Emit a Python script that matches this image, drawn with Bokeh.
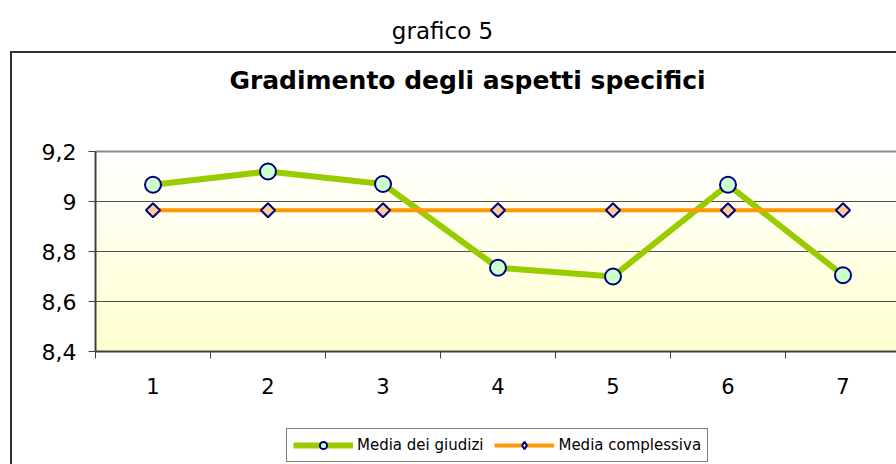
from bokeh.plotting import figure
from bokeh.models import (Range1d, FixedTicker, Legend, LegendItem)
from bokeh.core.properties import value
from bokeh.embed import file_html
from bokeh.resources import INLINE
import numpy as np

# ---- data ----
categories = [1, 2, 3, 4, 5, 6, 7]
category_labels = ["1", "2", "3", "4", "5", "6", "7"]
media_giudizi = [9.067, 9.12, 9.07, 8.735, 8.70, 9.067, 8.705]
media_complessiva = [8.965, 8.965, 8.965, 8.965, 8.965, 8.965, 8.965]
y_ticks = [8.4, 8.6, 8.8, 9.0, 9.2]
y_tick_labels = ["8,4", "8,6", "8,8", "9", "9,2"]
outer_title = "grafico 5"
chart_title = "Gradimento degli aspetti specifici"
series_names = ["Media dei giudizi", "Media complessiva"]

FONT = "DejaVu Sans"
W, H = 896, 464
LEFT, BOTTOM = 95, 351          # plot-area left edge / x-axis position (px)
PX_PER_Y = 250.0                # 0.2 units = 50 px
PX_PER_X = 115.0                # one category = 115 px
Y0, Y1 = 8.4, 9.2
X0 = 0.5
X1 = X0 + (W - LEFT) / PX_PER_X

GREEN, ORANGE, NAVY = "#99cc00", "#ff9900", "#000080"
CIRCLE_FILL, DIAMOND_FILL = "#ccffcc", "#ffcc99"
BOX = "#303030"

# chart-area box (left + top edges) as the figure's page background
box_css = (f"linear-gradient({BOX}, {BOX}) 10px 51px / 2px 600px no-repeat, "
           f"linear-gradient({BOX}, {BOX}) 10px 51px / 1200px 2px no-repeat, #ffffff")

p = figure(width=W, height=H, output_backend="svg", toolbar_location=None,
           x_range=Range1d(X0 - LEFT / PX_PER_X, X1),
           y_range=Range1d(Y0 - (H - BOTTOM) / PX_PER_Y, Y0 + BOTTOM / PX_PER_Y),
           min_border=0, styles={"background": box_css})
p.outline_line_color = None
p.background_fill_alpha = 0
p.border_fill_alpha = 0
p.grid.visible = False
p.extra_x_ranges = {"px": Range1d(0, W)}
p.extra_y_ranges = {"py": Range1d(H, 0)}

# gradient plot background (white -> pale yellow)
n = 80
edges = np.linspace(Y0, Y1, n + 1)
cols = []
for i in range(n):
    t = 1 - (i + 0.5) / n  # 1 at bottom, 0 at top
    cols.append("#%02x%02x%02x" % (255, 255, int(round(255 - 51 * t))))
p.quad(left=X0, right=X1, bottom=edges[:-1], top=edges[1:], fill_color=cols,
       line_color=None, level="image")

# horizontal grid lines of the plot area and its top border
inner = [t for t in y_ticks if Y0 < t < Y1]
p.segment(x0=[X0] * len(inner), x1=[X1] * len(inner), y0=inner, y1=inner,
          line_color="#505050", line_width=1)
p.segment(x0=[X0], x1=[X1], y0=[Y1], y1=[Y1], line_color="#8c8c8c", line_width=2)

# titles
p.text(x=[442], y=[30], text=[outer_title], x_range_name="px", y_range_name="py",
       text_align="center", text_baseline="middle", text_font=value(FONT),
       text_font_size="23px", text_color="black")
p.text(x=[467], y=[80], text=[chart_title], x_range_name="px", y_range_name="py",
       text_align="center", text_baseline="middle", text_font=value(FONT),
       text_font_size="25px", text_font_style="bold", text_color="black")

# axes (fixed at the plot-area edges)
xa = p.xaxis[0]
xa.fixed_location = Y0
xa.bounds = (X0, X1)
xa.ticker = FixedTicker(ticks=categories,
                        minor_ticks=[c - 0.5 for c in categories] + [categories[-1] + 0.5])
xa.major_label_overrides = {c: l for c, l in zip(categories, category_labels)}
xa.major_tick_out = 0
xa.major_tick_in = 0
xa.minor_tick_out = 7
xa.minor_tick_in = 0
xa.minor_tick_line_color = "#404040"
xa.axis_line_color = "#404040"
xa.axis_line_width = 2
xa.major_label_text_font = FONT
xa.major_label_text_font_size = "21px"
xa.major_label_text_color = "black"
xa.major_label_standoff = 19

ya = p.yaxis[0]
ya.fixed_location = X0
ya.bounds = (Y0, Y1)
ya.ticker = FixedTicker(ticks=y_ticks)
ya.major_label_overrides = {t: l for t, l in zip(y_ticks, y_tick_labels)}
ya.major_tick_out = 7
ya.major_tick_in = 0
ya.minor_tick_line_color = None
ya.major_tick_line_color = "#404040"
ya.axis_line_color = "#404040"
ya.axis_line_width = 2
ya.major_label_text_font = FONT
ya.major_label_text_font_size = "22px"
ya.major_label_text_color = "black"
ya.major_label_standoff = 12

# series
l1 = p.line(categories, media_giudizi, line_color=GREEN, line_width=6)
s1 = p.scatter(categories, media_giudizi, marker="circle", size=16,
               fill_color=CIRCLE_FILL, line_color=NAVY, line_width=2)
l2 = p.line(categories, media_complessiva, line_color=ORANGE, line_width=4)
s2 = p.scatter(categories, media_complessiva, marker="square", angle=np.pi / 4,
               size=10, fill_color=DIAMOND_FILL, line_color=NAVY, line_width=2)
# legend-only diamond key (the legend does not rotate markers); draws nothing
s2_key = p.scatter([np.nan], [np.nan], marker="diamond", size=10,
                   fill_color="white", line_color=NAVY, line_width=2)

legend = Legend(items=[LegendItem(label=series_names[0], renderers=[l1, s1]),
                       LegendItem(label=series_names[1], renderers=[l2, s2_key])],
                orientation="horizontal", location=(286, 2),
                glyph_width=60, glyph_height=18, label_height=20,
                label_standoff=4, spacing=11, padding=6, margin=0,
                border_line_color="black", border_line_width=1,
                background_fill_color="white", background_fill_alpha=1,
                label_text_font=FONT, label_text_font_size="15px",
                label_text_color="black", label_text_baseline="middle")
p.add_layout(legend, "center")

open("out.html", "w").write(file_html(p, INLINE))
